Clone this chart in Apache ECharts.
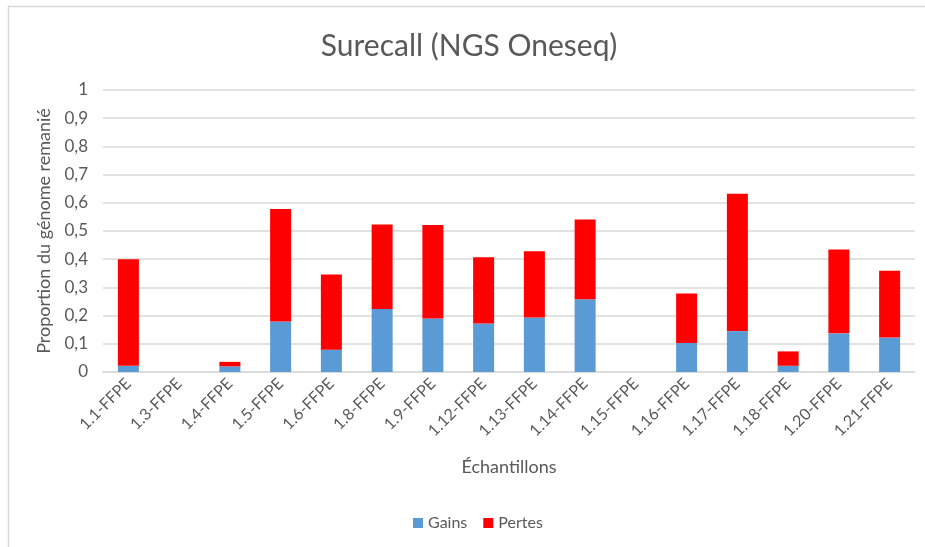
<!DOCTYPE html>
<html>
<head>
<meta charset="utf-8">
<script src="https://cdn.jsdelivr.net/npm/echarts@6/dist/echarts.min.js"></script>
<style>
    html, body { margin: 0; padding: 0; background: #fff; }
    #chart { width: 925px; height: 547px; }
</style>
</head>
<body>
<div id="chart"></div>
<script>
const samples = ['1.1-FFPE', '1.3-FFPE', '1.4-FFPE', '1.5-FFPE', '1.6-FFPE', '1.8-FFPE', '1.9-FFPE', '1.12-FFPE',
    '1.13-FFPE', '1.14-FFPE', '1.15-FFPE', '1.16-FFPE', '1.17-FFPE', '1.18-FFPE', '1.20-FFPE', '1.21-FFPE'];
const gains = [0.022, 0, 0.02, 0.179, 0.079, 0.223, 0.19, 0.172, 0.193, 0.258, 0, 0.103, 0.145, 0.022, 0.137, 0.122];
const pertes = [0.378, 0, 0.016, 0.399, 0.267, 0.300, 0.331, 0.235, 0.235, 0.283, 0, 0.175, 0.487, 0.051, 0.297, 0.237];

const font = 'Lato, "Open Sans", sans-serif';
const textColor = '#595959';

const chart = echarts.init(document.getElementById('chart'));
const option = {
    animation: false,
    textStyle: { fontFamily: font },
    title: {
        text: 'Surecall (NGS Oneseq)',
        left: 464,
        top: 26,
        textAlign: 'center',
        textStyle: { color: textColor, fontSize: 30, fontWeight: 'normal', fontFamily: font }
    },
    graphic: [{
        type: 'rect',
        shape: { x: 8.5, y: 6.5, width: 1000, height: 1000 },
        style: { fill: 'none', stroke: '#d9d9d9', lineWidth: 1.5 },
        silent: true
    }],
    legend: {
        data: ['Gains', 'Pertes'],
        left: 408,
        top: 510,
        itemWidth: 10,
        itemHeight: 10,
        itemGap: 16,
        icon: 'rect',
        textStyle: { color: textColor, fontSize: 16, fontFamily: font }
    },
    grid: {
        left: 103,
        right: 10,
        top: 90,
        bottom: 175
    },
    xAxis: {
        type: 'category',
        data: samples,
        name: 'Échantillons',
        nameLocation: 'middle',
        nameGap: 86,
        nameTextStyle: { color: textColor, fontSize: 18, fontFamily: font },
        axisLine: { lineStyle: { color: '#d9d9d9', width: 1.5 } },
        axisTick: { show: false },
        axisLabel: {
            color: textColor,
            fontSize: 16,
            rotate: 45,
            interval: 0,
            margin: 9,
            fontFamily: font
        }
    },
    yAxis: {
        type: 'value',
        min: 0,
        max: 1,
        interval: 0.1,
        name: 'Proportion du génome remanié',
        nameLocation: 'middle',
        nameGap: 44,
        nameTextStyle: { color: textColor, fontSize: 18, fontFamily: font },
        axisLine: { show: false },
        axisTick: { show: false },
        splitLine: { lineStyle: { color: '#d9d9d9', width: 1.5 } },
        axisLabel: {
            color: textColor,
            fontSize: 17,
            margin: 15,
            fontFamily: font,
            formatter: v => String(Math.round(v * 10) / 10).replace('.', ',')
        }
    },
    series: [{
        name: 'Gains',
        type: 'bar',
        stack: 'total',
        data: gains,
        barWidth: 21,
        itemStyle: { color: '#5b9bd5' }
    }, {
        name: 'Pertes',
        type: 'bar',
        stack: 'total',
        data: pertes,
        barWidth: 21,
        itemStyle: { color: '#ff0000' }
    }]
};
chart.setOption(option);
</script>
</body>
</html>
